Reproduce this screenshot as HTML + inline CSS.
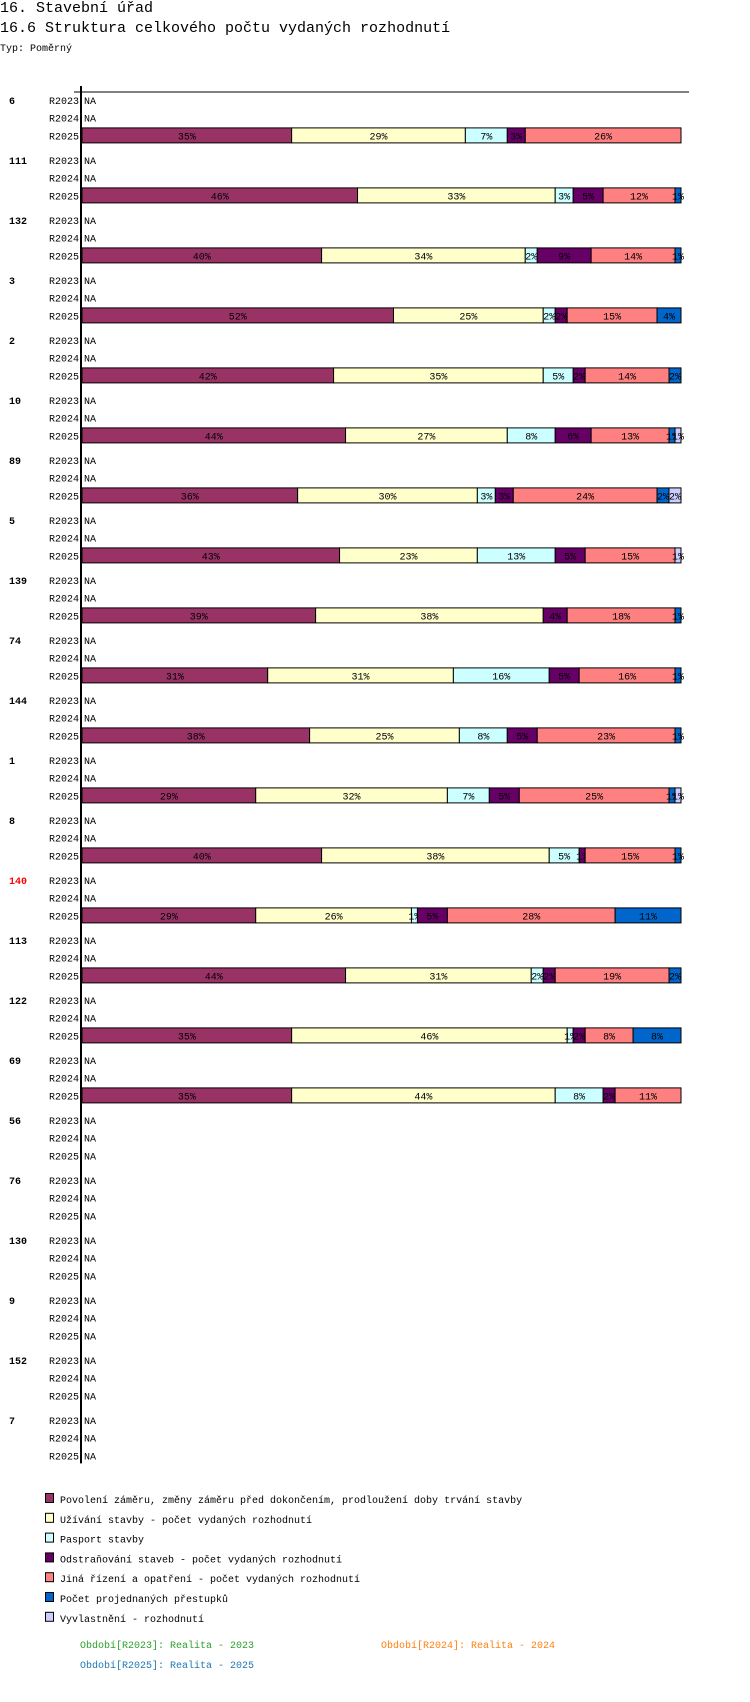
<!DOCTYPE html>
<html><head><meta charset="utf-8"><style>
body{margin:0;width:750px;height:1702px;background:#fff;font-family:"Liberation Mono",monospace;position:relative;overflow:hidden}
.t{position:absolute;white-space:nowrap;color:#000}
</style></head><body>
<div class="t" style="left:0;top:0;font-size:15px">16. Stavební úřad</div>
<div class="t" style="left:0;top:20px;font-size:15px">16.6 Struktura celkového počtu vydaných rozhodnutí</div>
<div class="t" style="left:0;top:44px;font-size:10px">Typ: Poměrný</div>
<svg id="c" width="750" height="1702" style="position:absolute;left:0;top:0" font-family="Liberation Mono, monospace" font-size="10"></svg>
<script>
const groups=["6","111","132","3","2","10","89","5","139","74","144","1","8","140","113","122","69","56","76","130","9","152","7"];
const periods=["R2023","R2024","R2025"];
const seriesNames=["Povolení záměru,  změny záměru před dokončením, prodloužení doby trvání stavby","Užívání stavby - počet vydaných rozhodnutí","Pasport stavby","Odstraňování staveb - počet vydaných rozhodnutí","Jiná řízení a opatření - počet vydaných rozhodnutí","Počet projednaných přestupků","Vyvlastnění - rozhodnutí"];
const colors=["#993366","#ffffcc","#ccffff","#660066","#ff8080","#0066cc","#ccccff"];
const r2025=[
[35,29,7,3,26,0,0],[46,33,3,5,12,1,0],[40,34,2,9,14,1,0],[52,25,2,2,15,4,0],
[42,35,5,2,14,2,0],[44,27,8,6,13,1,1],[36,30,3,3,24,2,2],[43,23,13,5,15,0,1],
[39,38,0,4,18,1,0],[31,31,16,5,16,1,0],[38,25,8,5,23,1,0],[29,32,7,5,25,1,1],
[40,38,5,1,15,1,0],[29,26,1,5,28,11,0],[44,31,2,2,19,2,0],[35,46,1,2,8,8,0],
[35,44,8,2,11,0,0],null,null,null,null,null,null];
const svg=document.getElementById('c');const NS="http://www.w3.org/2000/svg";
function el(t,a,p){const e=document.createElementNS(NS,t);for(const k in a)e.setAttribute(k,a[k]);(p||svg).appendChild(e);return e;}
const X0=82,X1=681,TOP=92,GAP=60.0,ROW=17.7;
const xs=v=>X0+(X1-X0)*v/100;
function gy(i){return TOP+8+i*GAP;}
let line=el('line',{x1:74,y1:TOP,x2:689,y2:TOP,stroke:'#000'});


let ax=el('line',{x1:81,y1:TOP-6,x2:81,y2:gy(22)+2*ROW+8,stroke:'#000','stroke-width':2});


groups.forEach((g,i)=>{
  const y=gy(i);
  const gl=el('text',{x:9,y:y+4,'font-weight':'bold',fill:g==="140"?'#ff0000':'#000'});gl.textContent=g;
  
  
  periods.forEach((p,j)=>{
    const yy=y+j*ROW;
    const pl=el('text',{x:79,y:yy+4,'text-anchor':'end'});pl.textContent=p;
    
    
    const d=(j===2)?r2025[i]:null;
    if(!d){const na=el('text',{x:84,y:yy+4});na.textContent="NA";
      
      return;}
    let acc=0;
    d.forEach((v,k)=>{
      if(v<=0)return;
      const xa=xs(acc),xb=xs(acc+v);acc+=v;
      const r=el('rect',{x:xa,y:yy-7.5,width:xb-xa,height:15,fill:colors[k],stroke:'#000','stroke-width':1});
      
      
      const tx=el('text',{x:(xa+xb)/2,y:yy+4,'text-anchor':'middle'});tx.textContent=v+"%";
      
      
    });
  });
});
seriesNames.forEach((n,k)=>{
  const y=1499+k*19.8;
  const r=el('rect',{x:45.5,y:y-5.5,width:8,height:9,fill:colors[k],stroke:'#000'});
  
  
  const t=el('text',{x:60,y:y+4});t.textContent=n;
  
  
});
[["Období[R2023]: Realita - 2023",80,1644,"#2ca02c"],["Období[R2024]: Realita - 2024",381,1644,"#ff7f0e"],["Období[R2025]: Realita - 2025",80,1664,"#1f77b4"]].forEach(a=>{
  const t=el('text',{x:a[1],y:a[2]+4,fill:a[3]});t.textContent=a[0];
  
  
});
</script>
</body></html>
